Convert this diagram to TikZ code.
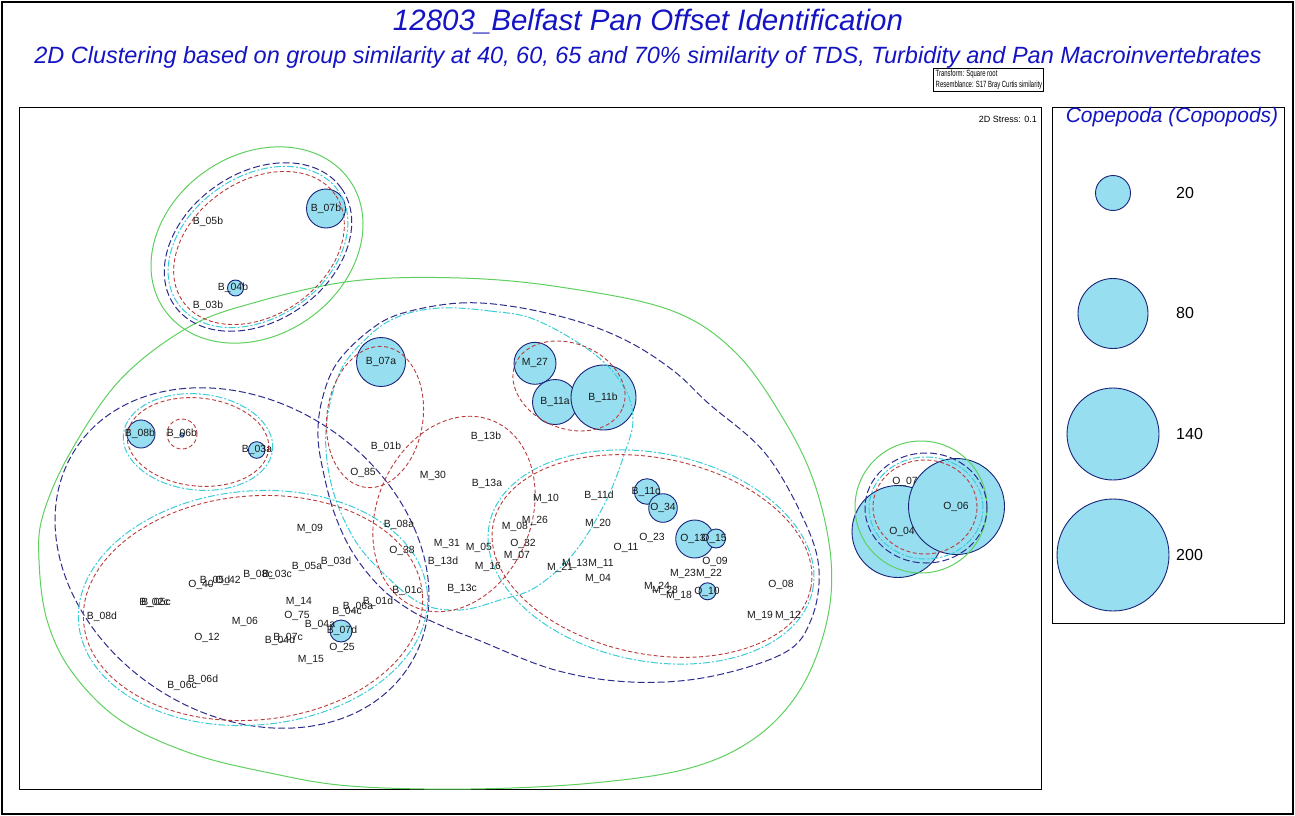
\documentclass[tikz,border=0pt]{standalone}
\usepackage{fontspec}
\setmainfont{Liberation Sans}
\definecolor{ttl}{RGB}{20,20,195}
\definecolor{bubfill}{RGB}{150,222,240}
\definecolor{bubline}{RGB}{25,35,120}
\definecolor{grn}{RGB}{95,208,95}
\definecolor{nvy}{RGB}{45,45,140}
\definecolor{cyn}{RGB}{60,205,215}
\definecolor{rdd}{RGB}{185,60,60}
\definecolor{lbltxt}{RGB}{25,25,25}
\newcommand{\smplabel}[3]{\node[lbl] (#1) at (#2) {#3};}
\begin{document}
\begin{tikzpicture}[x=1pt,y=-1pt,
  lbl/.style={font=\fontsize{10.4}{12}\selectfont, text=lbltxt, inner sep=0pt},
  bub/.style={fill=bubfill, draw=bubline, line width=0.9pt},
  g40/.style={draw=grn, line width=1pt},
  g60/.style={draw=nvy, line width=1pt, dash pattern=on 7pt off 3pt},
  g65/.style={draw=cyn, line width=1pt, dash pattern=on 7pt off 2pt on 2pt off 2pt},
  g70/.style={draw=rdd, line width=0.9pt, dash pattern=on 4pt off 2.5pt},
  frame/.style={draw=black, line width=0.9pt}]
\useasboundingbox (0,0) rectangle (1295,816);
\fill[white] (0,0) rectangle (1295,816);
\draw[line width=1.6pt] (2,2) rectangle (1293,814);

% titles
\node[font=\fontsize{29.5}{32}\selectfont\itshape, text=ttl, inner sep=0pt] (title) at (648,22) {12803\_Belfast Pan Offset Identification};
\node[font=\fontsize{23.5}{26}\selectfont\itshape, text=ttl, inner sep=0pt] (subtitle) at (648,57) {2D Clustering based on group similarity at 40, 60, 65 and 70\% similarity of TDS, Turbidity and Pan Macroinvertebrates};

% transform box
\draw[line width=0.6pt] (933,68) rectangle (1043,91);
\node[anchor=west, inner sep=0pt, font=\fontsize{9}{10}\selectfont] (tf1) at (935.5,74) {\scalebox{0.66}[1]{Transform: Square root}};
\node[anchor=west, inner sep=0pt, font=\fontsize{9}{10}\selectfont] (tf2) at (935.5,85) {\scalebox{0.66}[1]{Resemblance: S17 Bray Curtis similarity}};

% frames
\draw[frame] (19,107) rectangle (1041,789);
\draw[frame] (1052,107) rectangle (1284,623);
\node[anchor=east, inner sep=0pt, font=\fontsize{9}{10}\selectfont] (stress) at (1037,119) {2D Stress: 0.1};

% legend
\node[font=\fontsize{21}{24}\selectfont\itshape, text=ttl, inner sep=0pt] (legtitle) at (1172,117) {Copepoda (Copopods)};
\path[bub] (1113,193) circle[radius=17.5pt];
\path[bub] (1113,313.5) circle[radius=35pt];
\path[bub] (1113,434) circle[radius=46pt];
\path[bub] (1113,555) circle[radius=56pt];
\node[anchor=west, font=\fontsize{16}{18}\selectfont, inner sep=0pt] (v20) at (1176,193) {20};
\node[anchor=west, font=\fontsize{16}{18}\selectfont, inner sep=0pt] (v80) at (1176,313) {80};
\node[anchor=west, font=\fontsize{16}{18}\selectfont, inner sep=0pt] (v140) at (1176,434) {140};
\node[anchor=west, font=\fontsize{16}{18}\selectfont, inner sep=0pt] (v200) at (1176,555) {200};

% bubbles
\path[bub] (326,208.5) circle[radius=19.5pt];
\path[bub] (235.5,288) circle[radius=8pt];
\path[bub] (381,362) circle[radius=24.5pt];
\path[bub] (535,363.3) circle[radius=21pt];
\path[bub] (555,402) circle[radius=22.5pt];
\path[bub] (603.5,397.5) circle[radius=32.5pt];
\path[bub] (141,434) circle[radius=14pt];
\path[bub] (182,435) circle[radius=2.2pt];
\path[bub] (256.7,450) circle[radius=8.3pt];
\path[bub] (647,491.5) circle[radius=12.8pt];
\path[bub] (663,508) circle[radius=14.3pt];
\path[bub] (694.7,539) circle[radius=19pt];
\path[bub] (716,538.5) circle[radius=9.5pt];
\path[bub] (707.5,591.3) circle[radius=8.5pt];
\path[bub] (341,631) circle[radius=11pt];
\path[bub] (898,531.5) circle[radius=46pt];
\path[bub] (956.5,506.5) circle[radius=48pt];

% 40% (green)
\draw[g40] plot[smooth cycle, tension=0.6] coordinates {(460,278) (560,287) (670,310) (735,352) (784,420) (815,485) (831,560) (826,625) (800,690) (755,738) (690,768) (593,783) (470,789) (350,786) (270,773) (190,753) (120,720) (72,672) (47,620) (39,560) (43,515) (70,453) (120,380) (187,328) (253,303) (353,281)};
\draw[g40, rotate around={35:(257,245)}] (257,245) ellipse [x radius=113pt, y radius=90pt];
\draw[g40] (921,507) circle[radius=66pt];

% 60% (navy)
\draw[g60, rotate around={35:(258,247)}] (258,247) ellipse [x radius=102pt, y radius=74pt];
\draw[g60, rotate around={-33.5:(242,558)}] (242,558) ellipse [x radius=199pt, y radius=156pt];
\draw[g60] plot[smooth cycle, tension=0.6] coordinates {(403,313) (460,303) (516,307) (580,322) (631,343) (675,372) (708,403) (765,453) (804,520) (819,570) (811,620) (784,653) (708,677) (631,682) (555,670) (478,640) (440,625) (410,610) (380,587) (353,553) (335,515) (324,475) (318,437) (322,400) (337,363) (370,330)};
\draw[g60] (926,508) ellipse [x radius=61pt, y radius=55pt];

% 65% (cyan)
\draw[g65, rotate around={35:(258,247)}] (258,247) ellipse [x radius=98pt, y radius=70.5pt];
\draw[g65, rotate around={-6:(198,442)}] (198,442) ellipse [x radius=75pt, y radius=48pt];
\draw[g65, rotate around={5:(253,608)}] (253,608) ellipse [x radius=175pt, y radius=117pt];
\draw[g65] plot[smooth cycle, tension=0.6] coordinates {(440,308) (490,311) (536,320) (593,353) (624,387) (633,420) (624,455) (605,503) (574,553) (536,587) (500,600) (460,610) (420,603) (380,570) (353,537) (332,487) (326,430) (340,372) (370,335) (400,316)};
\draw[g65, rotate around={-11.5:(651,557)}] (651,557) ellipse [x radius=165pt, y radius=104pt];
\draw[g65] (926,508) ellipse [x radius=57pt, y radius=51pt];

% 70% (red)
\draw[g70, rotate around={35:(259,248)}] (259,248) ellipse [x radius=93pt, y radius=67pt];
\draw[g70, rotate around={-6:(198,442)}] (198,442) ellipse [x radius=71pt, y radius=44pt];
\draw[g70] (182,434) circle[radius=15pt];
\draw[g70, rotate around={5:(253,608)}] (253,608) ellipse [x radius=170pt, y radius=112pt];
\draw[g70, rotate around={-8:(375,417)}] (375,417) ellipse [x radius=48pt, y radius=71pt];
\draw[g70, rotate around={-23:(454,514)}] (454,514) ellipse [x radius=77pt, y radius=101pt];
\draw[g70, rotate around={-22:(569,386)}] (569,386) ellipse [x radius=58pt, y radius=42.5pt];
\draw[g70, rotate around={-11.5:(652,556)}] (652,556) ellipse [x radius=162pt, y radius=98pt];
\draw[g70] (925,507) ellipse [x radius=52pt, y radius=47pt];

% sample labels
\smplabel{B07b}{326,209}{B\_07b}
\smplabel{B05b}{208,222}{B\_05b}
\smplabel{B04b}{233,288}{B\_04b}
\smplabel{B03b}{208,306}{B\_03b}
\smplabel{B08b}{140,434}{B\_08b}
\smplabel{B06b}{182,434}{B\_06b}
\smplabel{B03a}{257,450}{B\_03a}
\smplabel{B07a}{381,362}{B\_07a}
\smplabel{M27}{535,363}{M\_27}
\smplabel{B11a}{555,402}{B\_11a}
\smplabel{B11b}{603,398}{B\_11b}
\smplabel{B01b}{386,447}{B\_01b}
\smplabel{B13b}{486,437}{B\_13b}
\smplabel{O85}{363,473}{O\_85}
\smplabel{M30}{433,476}{M\_30}
\smplabel{B13a}{487,484}{B\_13a}
\smplabel{M10}{546,499}{M\_10}
\smplabel{B11d}{599,496}{B\_11d}
\smplabel{B11c}{646,492}{B\_11c}
\smplabel{B08a}{399,525}{B\_08a}
\smplabel{M08}{515,526.5}{M\_08}
\smplabel{M26}{535,521}{M\_26}
\smplabel{M20}{598,523.5}{M\_20}
\smplabel{O34}{663,508}{O\_34}
\smplabel{M31}{447,543.5}{M\_31}
\smplabel{M05}{479,547.5}{M\_05}
\smplabel{O32}{523,544}{O\_32}
\smplabel{O38}{402,551}{O\_38}
\smplabel{M07}{517,556}{M\_07}
\smplabel{O23}{652,538}{O\_23}
\smplabel{O13}{693,539}{O\_13}
\smplabel{O15}{714,539}{O\_15}
\smplabel{O11}{626,547.5}{O\_11}
\smplabel{B13d}{443,562}{B\_13d}
\smplabel{M16}{488,567}{M\_16}
\smplabel{M13}{575,564}{M\_13}
\smplabel{M11}{601,564}{M\_11}
\smplabel{M21}{560,568}{M\_21}
\smplabel{O09}{715,562}{O\_09}
\smplabel{M04}{598,578.5}{M\_04}
\smplabel{M23}{683,574}{M\_23}
\smplabel{M22}{709,574}{M\_22}
\smplabel{O08}{781,585}{O\_08}
\smplabel{M24}{657,587}{M\_24}
\smplabel{M28}{665,591}{M\_28}
\smplabel{M18}{679,596}{M\_18}
\smplabel{O10}{707,592}{O\_10}
\smplabel{M19}{760,616}{M\_19}
\smplabel{M12}{788,615.5}{M\_12}
\smplabel{B13c}{462,588.5}{B\_13c}
\smplabel{B01c}{407,591}{B\_01c}
\smplabel{M09}{310,528.5}{M\_09}
\smplabel{B05a}{307,566.5}{B\_05a}
\smplabel{B03d}{336,562}{B\_03d}
\smplabel{B08c}{258,575}{B\_08c}
\smplabel{B03c}{277,575}{B\_03c}
\smplabel{O40}{201,585}{O\_40}
\smplabel{B05d}{215,581}{B\_05d}
\smplabel{O42}{228,581}{O\_42}
\smplabel{B02c}{154,603}{B\_02c}
\smplabel{B05c}{156,603}{B\_05c}
\smplabel{B08d}{102,617}{B\_08d}
\smplabel{M14}{299,602}{M\_14}
\smplabel{O75}{297,616}{O\_75}
\smplabel{B04c}{347,612}{B\_04c}
\smplabel{B06a}{358,607}{B\_06a}
\smplabel{B01d}{378,602}{B\_01d}
\smplabel{M06}{245,622}{M\_06}
\smplabel{B04a}{320,624.5}{B\_04a}
\smplabel{B07d}{342,631}{B\_07d}
\smplabel{O12}{207,637.5}{O\_12}
\smplabel{B07c}{288,637.5}{B\_07c}
\smplabel{B04d}{280,641}{B\_04d}
\smplabel{O25}{342,647.5}{O\_25}
\smplabel{M15}{311,659.5}{M\_15}
\smplabel{B06d}{203,680}{B\_06d}
\smplabel{B06c}{182,686}{B\_06c}
\smplabel{O07}{905,482}{O\_07}
\smplabel{O06}{956,507}{O\_06}
\smplabel{O04}{902,532}{O\_04}
\end{tikzpicture}
\end{document}
